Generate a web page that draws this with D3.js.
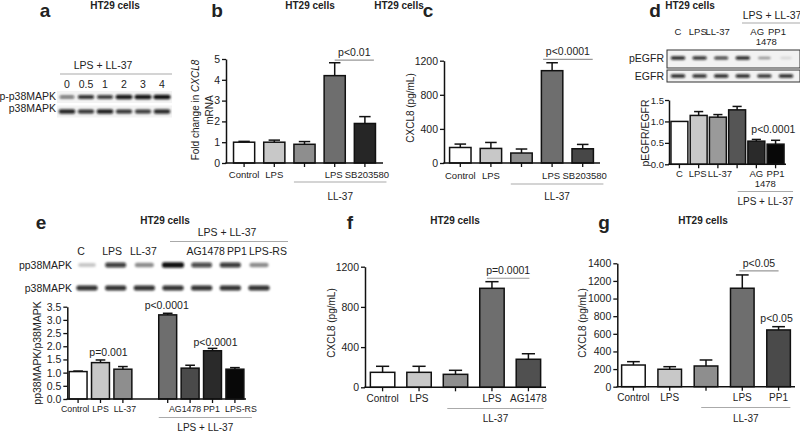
<!DOCTYPE html>
<html><head><meta charset="utf-8">
<script src="https://cdn.jsdelivr.net/npm/d3@7"></script>
<style>
body{margin:0;background:#fff}
svg{display:block}
text{font-family:Arial,"Liberation Sans",sans-serif;fill:#222}
</style>
</head><body>
<svg id="c" width="800" height="433"></svg>
<script>
// ---------------- DATA ----------------
// panel a (western blot, band intensities 0..1)
const aLanes = ["0","0.5","1","2","3","4"];
const aPhospho = [0.55,0.85,0.8,0.95,0.97,1.0];
const aTotal = [0.9,0.85,0.92,0.85,0.82,0.88];

// panel b
const bCats = ["Control","LPS","","LPS","SB203580"];
const bMeans = [1.0,1.0,0.9,4.2,1.9];
const bErrTop = [1.04,1.1,1.03,4.82,2.23];
const bTicks = [0,1,2,3,4,5];
const bColors = ["#ffffff","#c8c8c8","#8e8e8e","#6e6e6e","#262626"];

// panel c
const cCats = ["Control","LPS","","LPS","SB203580"];
const cMeans = [182,171,117,1083,167];
const cErrTop = [222,241,164,1176,218];
const cTicks = [0,400,800,1200];
const cColors = ["#ffffff","#c8c8c8","#8e8e8e","#6e6e6e","#474747"];

// panel d
const dLanes = ["C","LPS","LL-37","","AG|1478","PP1"];
const dPhospho = [0.9,0.85,0.8,0.9,0.4,0.12];
const dTotal = [0.9,0.88,0.9,0.9,0.85,0.9];
const dCats = ["C","LPS","LL-37","","AG|1478","PP1"];
const dMeans = [1.0,1.14,1.1,1.27,0.54,0.47];
const dErrTop = [1.0,1.23,1.16,1.35,0.58,0.56];
const dTicks = [0,0.5,1.0,1.5];
const dColors = ["#ffffff","#c8c8c8","#9a9a9a","#555555","#2a2a2a","#080808"];

// panel e
const eLanes = ["C","LPS","LL-37","","AG1478","PP1","LPS-RS"];
const ePhospho = [0.22,0.8,0.45,1.0,0.75,0.82,0.45];
const eTotal = [0.85,0.85,0.85,0.85,0.85,0.85,0.85];
const eCats = ["Control","LPS","LL-37","","AG1478","PP1","LPS-RS"];
const eMeans = [1.04,1.38,1.13,3.19,1.17,1.83,1.13];
const eErrTop = [1.06,1.48,1.23,3.25,1.28,1.92,1.19];
const eTicks = [0,0.5,1,1.5,2,2.5,3,3.5];
const eColors = ["#ffffff","#c8c8c8","#8e8e8e","#6e6e6e","#4a4a4a","#2a2a2a","#080808"];

// panel f
const fCats = ["Control","LPS","","LPS","AG1478"];
const fMeans = [149,149,129,985,279];
const fErrTop = [209,209,169,1051,334];
const fTicks = [0,400,800,1200];
const fColors = ["#ffffff","#c8c8c8","#8e8e8e","#6e6e6e","#505050"];

// panel g
const gCats = ["Control","LPS","","LPS","PP1"];
const gMeans = [246,198,235,1117,644];
const gErrTop = [284,227,303,1268,681];
const gTicks = [0,200,400,600,800,1000,1200,1400];
const gColors = ["#ffffff","#c8c8c8","#8e8e8e","#6e6e6e","#4a4a4a"];

// ---------------- DRAWING ----------------
const svg = d3.select("#c");
const defs = svg.append("defs");
defs.append("filter").attr("id","blur").attr("x","-50%").attr("y","-100%").attr("width","200%").attr("height","300%")
  .append("feGaussianBlur").attr("stdDeviation",0.9);

function txt(x,y,s,o={}){
  return svg.append("text").attr("x",x).attr("y",y)
    .attr("text-anchor",o.anchor||"middle")
    .attr("font-size",o.fs||10)
    .attr("font-weight",o.bold?"bold":null)
    .text(s);
}
function line(x1,y1,x2,y2,c,w){
  svg.append("line").attr("x1",x1).attr("y1",y1).attr("x2",x2).attr("y2",y2)
    .attr("stroke",c||"#999").attr("stroke-width",w||1.2);
}

function barPanel(o){
  const y = d3.scaleLinear().domain(o.domain).range([o.yB,o.yT]);
  const n = o.means.length;
  const nSlots = o.nSlots || n;
  const slotOf = o.slotOf || (i=>i);
  const x = d3.scaleBand().domain(d3.range(nSlots)).range([o.x0,o.x1]).paddingInner(o.pi).paddingOuter(o.po);
  const bw = x.bandwidth();
  const L = i=>x(slotOf(i)), C = i=>x(slotOf(i))+bw/2;
  const g = svg.append("g");
  // bars
  g.selectAll("rect.bar").data(o.means).join("rect").attr("class","bar")
    .attr("x",(d,i)=>L(i)).attr("width",bw)
    .attr("y",d=>y(d)).attr("height",d=>y(0)-y(d))
    .attr("fill",(d,i)=>o.colors[i]).attr("stroke","#111").attr("stroke-width",1.5);
  // error bars
  const cap = bw*0.27;
  o.errTop.forEach((e,i)=>{
    if(e<=o.means[i]) return;
    g.append("line").attr("x1",C(i)).attr("x2",C(i)).attr("y1",y(o.means[i])).attr("y2",y(e)).attr("stroke","#111").attr("stroke-width",1.5);
    g.append("line").attr("x1",C(i)-cap).attr("x2",C(i)+cap).attr("y1",y(e)).attr("y2",y(e)).attr("stroke","#111").attr("stroke-width",1.5);
  });
  // y axis
  const ax = d3.axisLeft(y).tickValues(o.ticks).tickSize(4).tickSizeOuter(0).tickPadding(o.tpad==null?2:o.tpad)
    .tickFormat(o.fmt||d3.format("d"));
  const ag = g.append("g").attr("transform",`translate(${o.ax},0)`).call(ax);
  ag.select(".domain").attr("stroke","#111").attr("stroke-width",1.5);
  ag.selectAll(".tick line").attr("stroke","#111").attr("stroke-width",1.3);
  ag.selectAll(".tick text").attr("font-size",o.tfs||10.5).attr("fill","#222").attr("font-family","Arial, Liberation Sans, sans-serif");
  // x baseline
  g.append("line").attr("x1",o.ax-0.75).attr("x2",o.base1).attr("y1",y(0)).attr("y2",y(0)).attr("stroke","#111").attr("stroke-width",1.5);
  // x ticks & labels
  o.cats.forEach((c,i)=>{
    g.append("line").attr("x1",C(i)).attr("x2",C(i)).attr("y1",y(0)).attr("y2",y(0)+4).attr("stroke","#111").attr("stroke-width",1.3);
    c.split("|").forEach((s,k)=>{
      txt(C(i)+((o.lblDx&&o.lblDx[i])||0)+(k?(o.sub2dx||0):0), y(0)+o.labelDy+k*10, s, {fs:o.fs||10});
    });
  });
  // significance bracket
  if(o.sig){
    const s=o.sig, yy=y(s.v), xa=C(s.i)+s.dx0, xb=C(s.j)+s.dx1;
    line(xa,yy,xb,yy,"#999",1.2);
    txt((xa+xb)/2, yy-4, s.text, {fs:10.5});
  }
  // standalone p labels
  (o.plabels||[]).forEach(p=>{
    txt(C(p.i)+(p.dx||0), y(o.errTop[p.i])-(p.dy||4), p.text, {fs:10.5});
  });
  // group line
  if(o.group){
    const gr=o.group, xa=L(gr.a)+gr.dx0, xb=L(gr.b)+bw+gr.dx1;
    line(xa,gr.y,xb,gr.y,"#aaa",1.2);
    txt((xa+xb)/2, gr.ty, gr.text, {fs:10});
  }
  // y label
  if(o.ylabel){
    const t = svg.append("text").attr("transform",`translate(${o.ylabel.x},${o.ylabel.y}) rotate(-90)`)
      .attr("text-anchor","middle").attr("font-size",o.ylabel.fs||10);
    o.ylabel.parts.forEach(p=>t.append("tspan").attr("font-style",p.it?"italic":null).text(p.t));
    if(o.ylabel.line2){
      svg.append("text").attr("transform",`translate(${o.ylabel.x2},${o.ylabel.y}) rotate(-90)`)
        .attr("text-anchor","middle").attr("font-size",o.ylabel.fs||10).text(o.ylabel.line2);
    }
  }
}

function blot(o){
  const n = o.lanes.length;
  const xb = d3.scalePoint().domain(d3.range(n)).range(o.bandRange);
  const xl = d3.scalePoint().domain(d3.range(n)).range(o.labelRange);
  if(o.header){
    txt(o.header.x, o.header.ty, o.header.text, {fs:10.5});
    line(o.header.x0, o.header.y, o.header.x1, o.header.y, "#aaa", 1.2);
  }
  o.lanes.forEach((l,i)=>{
    l.split("|").forEach((s,k)=>txt(xl(i)+(k?o.sub2dx||0:0), o.labelY+k*10, s, {fs:o.lfs||10.5}));
  });
  o.rows.forEach(r=>{
    if(r.box){
      svg.append("rect").attr("x",r.box[0]).attr("y",r.box[1]).attr("width",r.box[2]).attr("height",r.box[3])
        .attr("fill",r.bg||"#f4f4f4").attr("stroke","#333").attr("stroke-width",1);
    } else if(r.bg){
      svg.append("rect").attr("x",o.bandRange[0]-10).attr("y",r.y-6).attr("width",o.bandRange[1]-o.bandRange[0]+20).attr("height",12)
        .attr("fill",r.bg);
    }
    txt(o.rowLabelX, r.ly, r.label, {fs:10.5, anchor:"end"});
    const gg = svg.append("g").attr("filter","url(#blur)");
    gg.selectAll("rect").data(r.vals).join("rect")
      .attr("x",(d,i)=>xb(i)-o.bw*(0.75+0.25*d)/2)
      .attr("width",d=>o.bw*(0.75+0.25*d))
      .attr("y",d=>r.y-o.bh*(0.6+0.4*d)/2)
      .attr("height",d=>o.bh*(0.6+0.4*d))
      .attr("rx",2)
      .attr("fill","#0c0c0c").attr("opacity",d=>d);
  });
}

// panel letters & titles
[["a",45,17],["b",217,17],["c",428,17],["d",655,17],["e",41,229],["f",350,229],["g",604,229]]
  .forEach(([s,x,y])=>txt(x,y,s,{fs:19,bold:true}));
[[115,9],[310,9],[399,9],[690,9],[165,224],[455,224],[703,224]]
  .forEach(([x,y])=>txt(x,y,"HT29 cells",{fs:10,bold:true}));

// ---- a ----
blot({lanes:aLanes, bandRange:[67,162], labelRange:[67,162], labelY:88, bw:17, bh:4.5,
  header:{text:"LPS + LL-37", x:103, ty:69, y:74, x0:60, x1:172},
  rowLabelX:56,
  rows:[{label:"p-p38MAPK", y:97, ly:100, vals:aPhospho, bg:"#f3f3f3"},
        {label:"p38MAPK", y:111.5, ly:112, vals:aTotal, bg:"#f3f3f3"}]});

// ---- b ----
barPanel({domain:[0,5], yB:163, yT:59, ax:226, x0:229, x1:380, pi:0.3, po:0.15, base1:383,
  ticks:bTicks, cats:bCats, means:bMeans, errTop:bErrTop, colors:bColors, labelDy:15, fs:9.5, lblDx:[0,0,0,-1,2],
  sig:{i:3,j:4,v:4.95,dx0:0,dx1:9,text:"p<0.01"},
  group:{a:2,b:4,dx0:0,dx1:11,y:182,ty:200,text:"LL-37"},
  ylabel:{x:199,x2:213,y:110,parts:[{t:"Fold change in "},{t:"CXCL8",it:true}],line2:"mRNA"}});

// ---- c ----
barPanel({domain:[0,1200], yB:163, yT:60.7, ax:444, x0:445, x1:598, pi:0.3, po:0.15, base1:600,
  ticks:cTicks, cats:cCats, means:cMeans, errTop:cErrTop, colors:cColors, labelDy:16, fs:9.5, lblDx:[0,0,0,-1,2],
  sig:{i:3,j:4,v:1216,dx0:-9,dx1:10,text:"p<0.0001"},
  group:{a:2,b:4,dx0:0,dx1:10,y:184,ty:200,text:"LL-37"},
  ylabel:{x:414,y:108,parts:[{t:"CXCL8 (pg/mL)"}]}});

// ---- d ----
blot({lanes:dLanes, bandRange:[678,786], labelRange:[678,777], labelY:35, bw:15, bh:3.5, sub2dx:9, lfs:9.5,
  header:{text:"LPS + LL-37", x:772, ty:19, y:23, x0:742, x1:800},
  rowLabelX:664,
  rows:[{label:"pEGFR", y:58, ly:62, vals:dPhospho, box:[667,50,133,18], bg:"#f2f2f2"},
        {label:"EGFR", y:76, ly:80, vals:dTotal, box:[667,70,133,12], bg:"#f2f2f2"}]});
barPanel({domain:[0,1.5], yB:164.3, yT:100, ax:669, x0:670, x1:785, pi:0.12, po:0.05, base1:786,
  ticks:dTicks, fmt:d3.format(".1f"), tfs:9.5, tpad:1, cats:dCats, means:dMeans, errTop:dErrTop, colors:dColors,
  labelDy:13, fs:9.5, lblDx:[0,-1,2,0,0,0], sub2dx:9,
  plabels:[{i:4,dx:17,dy:6,text:"p<0.0001"}],
  group:{a:3,b:5,dx0:9,dx1:9,y:191.5,ty:205,text:"LPS + LL-37"},
  ylabel:{x:649,y:133,parts:[{t:"pEGFR/EGFR"}],fs:10.5}});

// ---- e ----
blot({lanes:eLanes, bandRange:[87,259], labelRange:[81,268], labelY:255, bw:22, bh:5.5,
  header:{text:"LPS + LL-37", x:227, ty:235.5, y:241.5, x0:170, x1:288},
  rowLabelX:72,
  rows:[{label:"pp38MAPK", y:265, ly:268.5, vals:ePhospho},
        {label:"p38MAPK", y:288, ly:291.5, vals:eTotal}]});
barPanel({domain:[0,3.5], yB:399, yT:306.7, ax:67.3, x0:68, x1:245, pi:0.2, po:0.05, base1:246,
  nSlots:8, slotOf:i=>i<3?i:i+1,
  ticks:eTicks, fmt:d3.format(".1f"), cats:eCats, means:eMeans, errTop:eErrTop, colors:eColors,
  labelDy:12.5, fs:8.8, lblDx:[-3,0,2,0,-5,-1,6],
  plabels:[{i:1,dx:8,dy:3.5,text:"p=0.001"},{i:3,dx:-1,dy:4,text:"p<0.0001"},{i:5,dx:3,dy:2.5,text:"p<0.0001"}],
  group:{a:3,b:6,dx0:0,dx1:8,y:417.5,ty:431,text:"LPS + LL-37"},
  ylabel:{x:41,y:353,parts:[{t:"pp38MAPK/p38MAPK"}],fs:10.5}});

// ---- f ----
barPanel({domain:[0,1200], yB:387.3, yT:266.7, ax:365, x0:366, x1:545, pi:0.33, po:0.12, base1:546,
  ticks:fTicks, cats:fCats, means:fMeans, errTop:fErrTop, colors:fColors, labelDy:14.5,
  sig:{i:3,j:4,v:1085,dx0:-5,dx1:1,text:"p=0.0001"},
  group:{a:2,b:4,dx0:4,dx1:3,y:408.5,ty:422,text:"LL-37"},
  ylabel:{x:335,y:323,parts:[{t:"CXCL8 (pg/mL)"}]}});

// ---- g ----
barPanel({domain:[0,1400], yB:386.7, yT:263.3, ax:617.3, x0:618, x1:794, pi:0.35, po:0.1, base1:795,
  ticks:gTicks, cats:gCats, means:gMeans, errTop:gErrTop, colors:gColors, labelDy:14,
  sig:{i:3,j:4,v:1313,dx0:-3,dx1:0,text:"p<0.05"},
  plabels:[{i:4,dx:-2,dy:5,text:"p<0.05"}],
  group:{a:2,b:4,dx0:7,dx1:0,y:407.5,ty:422,text:"LL-37"},
  ylabel:{x:586,y:323,parts:[{t:"CXCL8 (pg/mL)"}]}});
</script>
</body></html>
